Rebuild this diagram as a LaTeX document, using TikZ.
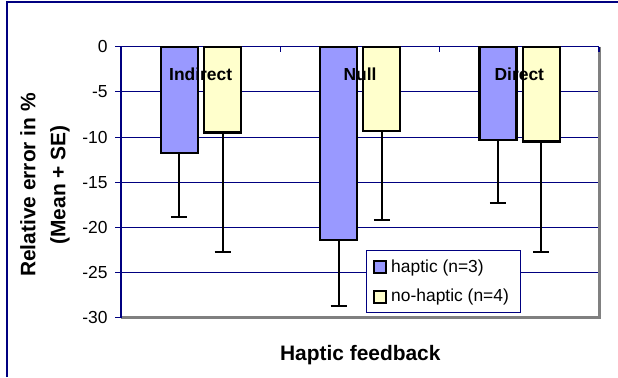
\documentclass[tikz,border=0pt]{standalone}
\usepackage{fontspec}
\setmainfont{Liberation Sans}
\definecolor{hapticblue}{HTML}{9999FF}
\definecolor{nohapticyellow}{HTML}{FFFFCC}
\definecolor{gridnavy}{HTML}{000080}
\definecolor{plotgray}{HTML}{808080}

\begin{document}
\begin{tikzpicture}[x=1bp, y=1bp, font=\fontsize{17.5}{20}\selectfont,
        barbox/.style={draw=black, line width=2.3bp},
        errbar/.style={black, line width=2bp},
        gridline/.style={gridnavy, line width=1bp}]
        \useasboundingbox (0,0) rectangle (618,377);
        \draw[gridnavy, line width=1.6bp] (7,0) -- (7,374.7) -- (618,374.7);
        \node[rotate=90, align=center, font=\fontsize{21}{30}\bfseries\selectfont]
            (ylabel) at (45,192) {Relative error in \%\\(Mean + SE)};
        \node[anchor=base, font=\fontsize{21}{24}\bfseries\selectfont]
            (xlabel) at (360.3,17) {Haptic feedback};
        \begin{scope}[shift={(121,330.3)}, y=9.0333bp]
            \foreach \v in {-5,-10,...,-25}
                \draw[gridline] (0,\v) -- (478,\v);
            \foreach \v in {0,-5,...,-30} {
                \draw[gridline] (-6,\v) -- (0,\v);
                \node[anchor=east, inner sep=0] (tick\v) at (-13.3,\v) {\v};
            }
            \draw[plotgray, line width=2.5bp] (478.5,0) -- (478.5,-30) -- (0,-30);
            \draw[gridnavy, line width=1.4bp] (0,-30) -- (0,0) -- (478,0);
            \foreach \t in {159.33,318.67,478}
                \draw[gridnavy, line width=1.2bp] (\t,0) -- (\t,-0.62);
            \foreach \i/\lab/\hm/\he/\nm/\ne in {0/Indirect/-11.8/-18.8/-9.5/-22.7,
                    1/Null/-21.4/-28.7/-9.3/-19.2, 2/Direct/-10.3/-17.3/-10.5/-22.7} {
                \pgfmathsetmacro\xo{159.333*\i}
                \draw[errbar] (\xo+58.2,\hm) -- (\xo+58.2,\he)
                    (\xo+50.2,\he) -- (\xo+66.2,\he);
                \draw[errbar] (\xo+101.5,\nm) -- (\xo+101.5,\ne)
                    (\xo+93.5,\ne) -- (\xo+109.5,\ne);
                \draw[barbox, fill=hapticblue] (\xo+39.7,0) rectangle (\xo+76.7,\hm);
                \draw[barbox, fill=nohapticyellow] (\xo+83,0) rectangle (\xo+120,\nm);
                \node[font=\fontsize{17.5}{20}\bfseries\selectfont] (cat\i)
                    at (\xo+79.67,-3.02) {\lab};
            }
        \end{scope}
        \node[draw=gridnavy, line width=1bp, fill=white, anchor=south west,
            inner sep=0, minimum width=154.3bp, minimum height=61.7bp]
            (legend) at (365.7,64.3) {};
        \draw[barbox, line width=1.8bp, fill=hapticblue] (374,104.3) rectangle (386,116.3);
        \draw[barbox, line width=1.8bp, fill=nohapticyellow] (374,74.3) rectangle (386,86.3);
        \node[anchor=west, inner sep=0] (haptic) at (391,109.5) {haptic (n=3)};
        \node[anchor=west, inner sep=0] (nohaptic) at (391,80.3) {no-haptic (n=4)};
    \end{tikzpicture}
\end{document}
